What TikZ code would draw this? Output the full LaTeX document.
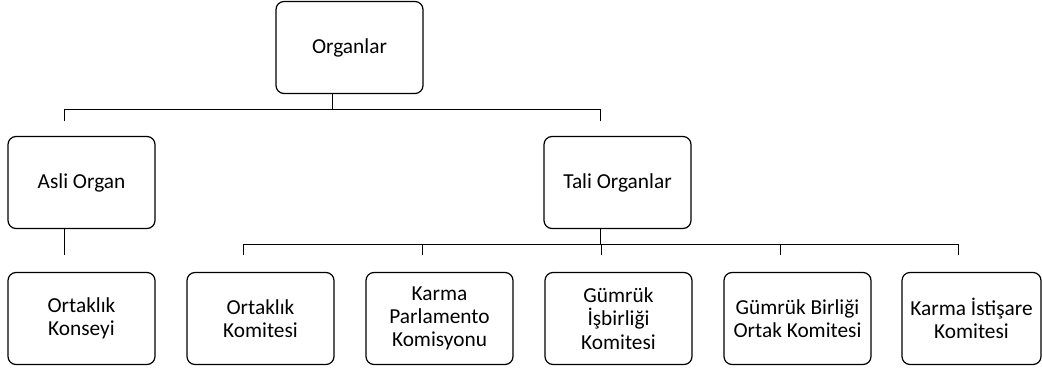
\documentclass[tikz,border=0pt]{standalone}
\usepackage{fontspec}
\setmainfont{Carlito}

\begin{document}
\begin{tikzpicture}[x=0.75pt,y=-0.75pt]
	\tikzset{organ/.style={draw=black,line width=0.9pt,rounded corners=6pt,minimum width=110.25pt,minimum height=69pt,inner sep=2pt,align=center,font=\fontsize{16}{17.5}\selectfont},
		bag/.style={line width=0.9pt}}
	\useasboundingbox (0,0) rectangle (1042,371);
	\node[organ] (kok) at (349.5,47.5) {Organlar};
	\node[organ] (asli) at (81.5,182.5) {Asli Organ};
	\node[organ] (tali) at (617.5,182.5) {Tali Organlar};
	\node[organ] (konsey) at (81.5,318.5) {Ortaklık\\Konseyi};
	\node[organ] (komite) at (260.5,318.5) {Ortaklık\\Komitesi};
	\node[organ] (parl) at (439.5,318.5) {Karma\\Parlamento\\Komisyonu};
	\node[organ] (gumruk) at (618.5,318.5) {Gümrük\\İşbirliği\\Komitesi};
	\node[organ] (birlik) at (797.5,318.5) {Gümrük Birliği\\Ortak Komitesi};
	\node[organ,minimum width=104.25pt] (istisare) at (971.5,318.5) {Karma İstişare\\Komitesi};
	\draw[bag] ([xshift=42.75pt]kok.south west) -- ++(0,15) -| ([xshift=42.75pt,yshift=11.5pt]asli.north west);
	\draw[bag] ([xshift=42.75pt]kok.south west) -- ++(0,15) -| ([xshift=42.75pt,yshift=11.5pt]tali.north west);
	\draw[bag] ([xshift=42.75pt]asli.south west) -- ([xshift=42.75pt,yshift=13pt]konsey.north west);
	\foreach \alt in {komite,parl,gumruk,birlik,istisare}
		\draw[bag] ([xshift=42.75pt]tali.south west) -- ++(0,15) -| ([xshift=42.75pt,yshift=13pt]\alt.north west);
\end{tikzpicture}
\end{document}
